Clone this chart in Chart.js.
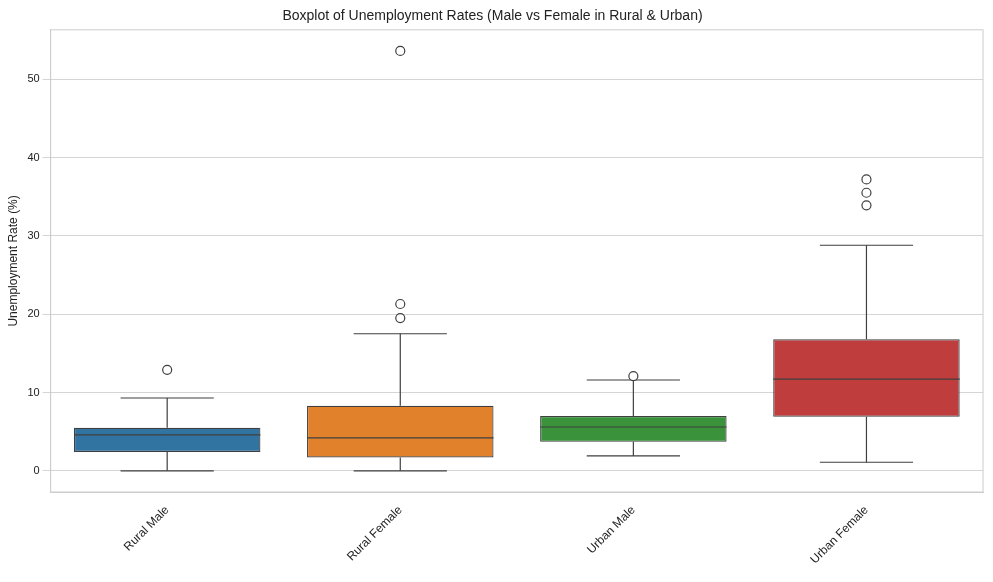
<!DOCTYPE html>
<html><head><script src="https://cdn.jsdelivr.net/npm/chart.js"></script>
<style>body{margin:0;background:#fff}#w{width:993px;height:582px}</style></head>
<body><div id="w"><canvas id="c"></canvas></div>
<script>
const categories=["Rural Male","Rural Female","Urban Male","Urban Female"];
const q1=[2.4,1.7,3.7,6.9];
const q3=[5.5,8.3,7.0,16.8];
const medians=[4.6,4.2,5.6,11.7];
const whiskLo=[0,0,1.9,1.1];
const whiskHi=[9.3,17.5,11.6,28.8];
const outliers=[[12.9],[19.5,21.3,53.6],[12.1],[33.9,35.5,37.2]];
const colors=["#3274a1","#e1812c","#3a923a","#c03d3e"];
const edge="#3f3f3f";
const F="Liberation Sans, Arial, sans-serif";
const boxPlugin={id:"box",afterDatasetsDraw(ch){
 const ctx=ch.ctx,x=ch.scales.x,y=ch.scales.y,meta=ch.getDatasetMeta(0);
 ctx.save();ctx.strokeStyle=edge;ctx.lineWidth=1.2;
 categories.forEach((c,i)=>{
  const bar=meta.data[i],cx=bar.x,hw=bar.width/2,cap=hw/2;
  const line=(x1,y1,x2,y2)=>{ctx.beginPath();ctx.moveTo(x1,y1);ctx.lineTo(x2,y2);ctx.stroke();};
  const py=v=>y.getPixelForValue(v);
  line(cx-hw,py(medians[i]),cx+hw,py(medians[i]));
  line(cx,py(q1[i]),cx,py(whiskLo[i]));line(cx-cap,py(whiskLo[i]),cx+cap,py(whiskLo[i]));
  line(cx,py(q3[i]),cx,py(whiskHi[i]));line(cx-cap,py(whiskHi[i]),cx+cap,py(whiskHi[i]));
  outliers[i].forEach(v=>{ctx.beginPath();ctx.arc(cx,py(v),4.5,0,Math.PI*2);ctx.fillStyle="#fff";ctx.fill();ctx.stroke();});
 });
 ctx.restore();}};
new Chart(document.getElementById("c"),{type:"bar",
 data:{labels:categories,datasets:[{data:categories.map((c,i)=>[q1[i],q3[i]]),backgroundColor:colors,borderColor:edge,borderWidth:1.2,borderSkipped:false,barPercentage:0.8,categoryPercentage:1}]},
 options:{responsive:true,maintainAspectRatio:false,animation:false,
  layout:{padding:{top:4,right:10,left:2}},
  plugins:{legend:{display:false},tooltip:{enabled:false},
   title:{display:true,text:"Boxplot of Unemployment Rates (Male vs Female in Rural & Urban)",color:"#222",font:{family:F,size:14,weight:"normal"},padding:{top:4,bottom:5}}},
  scales:{
   x:{grid:{display:false},border:{color:"#ccc"},afterFit:a=>{a.height=90;},ticks:{color:"#222",font:{family:F,size:12},minRotation:45,maxRotation:45}},
   y:{min:-2.7,max:56.3,grid:{color:"#d5d5d5"},border:{color:"#ccc"},
    ticks:{color:"#222",font:{family:F,size:11},stepSize:10,callback:v=>v%10===0&&v>=0?v:null},
    afterBuildTicks:a=>{a.ticks=[0,10,20,30,40,50].map(v=>({value:v}));},
    title:{display:true,text:"Unemployment Rate (%)",color:"#222",font:{family:F,size:12}}}}},
 plugins:[boxPlugin,{id:"frame",afterDraw(ch){const a=ch.chartArea,c=ch.ctx;c.save();c.strokeStyle="#ccc";c.strokeRect(a.left,a.top,a.right-a.left,a.bottom-a.top);c.restore();}}]});
</script></body></html>
